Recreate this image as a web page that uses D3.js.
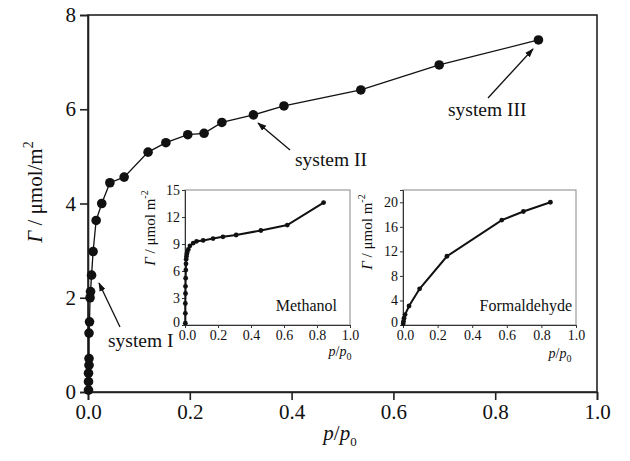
<!DOCTYPE html>
<html><head><meta charset="utf-8">
<script src="https://cdn.jsdelivr.net/npm/d3@7"></script>
<style>
body{margin:0;background:#fff;}
text{font-family:"Liberation Serif","Times New Roman",serif;fill:#111;}
</style></head>
<body><svg id="c" width="630" height="461"></svg>
<script>
// ---- data ----
const mainP = [0.001,0.001,0.001,0.002,0.002,0.002,0.003,0.004,0.005,0.007,0.01,0.016,0.027,0.043,0.071,0.118,0.153,0.196,0.228,0.263,0.325,0.385,0.536,0.690,0.885];
const mainG = [0.04,0.22,0.4,0.57,0.71,1.25,1.49,2.0,2.13,2.48,2.98,3.64,4.0,4.44,4.56,5.09,5.29,5.46,5.49,5.72,5.88,6.07,6.41,6.94,7.47];
const methP = [0.002,0.002,0.002,0.003,0.003,0.004,0.005,0.006,0.007,0.009,0.011,0.014,0.02,0.03,0.05,0.07,0.11,0.17,0.23,0.31,0.46,0.62,0.84];
const methG = [0.2,1.3,2.4,3.5,4.3,5.2,6.1,6.8,7.3,7.6,7.9,8.1,8.4,8.8,9.1,9.3,9.4,9.6,9.8,10.0,10.5,11.1,13.6];
const formP = [0.001,0.003,0.006,0.012,0.035,0.096,0.254,0.571,0.696,0.852];
const formG = [0.2,0.6,1.1,1.7,3.1,5.9,11.2,17.1,18.5,20.0];
const mainXTicks = [0,0.2,0.4,0.6,0.8,1.0];
const mainYTicks = [0,2,4,6,8];
const insetXTicks = [0,0.2,0.4,0.6,0.8,1.0];
const methYTicks = [0,3,6,9,12,15];
const formYTicks = [0,4,8,12,16,20];
const annotations = [
  {label:"system I", tx:108, ty:347, x1:120, y1:327, x2:99, y2:283},
  {label:"system II", tx:295, ty:166, x1:290, y1:150, x2:258, y2:123},
  {label:"system III", tx:448, ty:116, x1:488, y1:98, x2:533, y2:49}
];

const svg = d3.select("#c");
svg.append("defs").append("marker").attr("id","ah").attr("viewBox","0 0 10 10")
  .attr("refX",9).attr("refY",5).attr("markerWidth",7).attr("markerHeight",7)
  .attr("orient","auto").append("path").attr("d","M0,1.5L10,5L0,8.5Z").attr("fill","#111");

function panel(o){
  const x = d3.scaleLinear().domain([0,1]).range([o.x0,o.x1]);
  const y = d3.scaleLinear().domain(o.yDom).range([o.y0,o.y1]);
  const g = svg.append("g");
  g.append("rect").attr("x",o.x0).attr("y",o.y1).attr("width",o.x1-o.x0).attr("height",o.y0-o.y1)
    .attr("fill","none").attr("stroke",o.frame).attr("stroke-width",o.fw);
  const xa = g.append("g").attr("transform",`translate(0,${o.y0})`)
    .call(d3.axisBottom(x).tickValues(o.xt).tickFormat(d3.format(".1f")).tickSize(o.ts).tickPadding(o.tp));
  const ya = g.append("g").attr("transform",`translate(${o.x0},0)`)
    .call(d3.axisLeft(y).tickValues(o.yt).tickFormat(d3.format("d")).tickSize(o.ts).tickPadding(o.tp));
  [xa,ya].forEach(a=>{
    a.select(".domain").attr("stroke",o.axisCol).attr("stroke-width",o.aw);
    a.selectAll(".tick line").attr("stroke",o.axisCol).attr("stroke-width",o.aw);
    a.selectAll(".tick text").attr("font-family","Liberation Serif").attr("font-size",o.fs).attr("fill","#111");
  });
  if(o.inset){
    // lift the zero label on the y axis a little, as in the reference
    ya.selectAll(".tick").filter(d=>d===0).select("text").attr("dy","0.1em");
    xa.selectAll(".tick").filter(d=>d===0).select("text").attr("dx","0.15em");
  }
  const pts = o.p.map((p,i)=>[p,o.g[i]]);
  g.append("path").datum(pts).attr("fill","none").attr("stroke","#111").attr("stroke-width",o.lw)
    .attr("d",d3.line().x(d=>x(d[0])).y(d=>y(d[1])));
  g.selectAll("circle.pt").data(pts).join("circle").attr("class","pt")
    .attr("cx",d=>x(d[0])).attr("cy",d=>y(d[1])).attr("r",o.r).attr("fill","#111");
  return {x,y,g};
}

// main
panel({x0:88,x1:597,y0:392,y1:15,yDom:[0,8],xt:mainXTicks,yt:mainYTicks,frame:"#222",fw:1.6,
  axisCol:"#222",aw:1.6,ts:8,tp:4,fs:21,p:mainP,g:mainG,lw:1.3,r:4.8});

const yl = svg.append("text").attr("transform","translate(42,192) rotate(-90)").attr("text-anchor","middle").attr("font-size",21);
yl.append("tspan").attr("font-style","italic").text("Γ");
yl.append("tspan").text(" / μmol/m");
yl.append("tspan").attr("font-size",14).attr("dy",-9).text("2");
const xl = svg.append("text").attr("x",340).attr("y",440).attr("text-anchor","middle").attr("font-size",21);
xl.append("tspan").attr("font-style","italic").text("p");
xl.append("tspan").text("/");
xl.append("tspan").attr("font-style","italic").text("p");
xl.append("tspan").attr("font-size",13).attr("dy",6).text("0");

annotations.forEach(a=>{
  svg.append("line").attr("x1",a.x1).attr("y1",a.y1).attr("x2",a.x2).attr("y2",a.y2)
    .attr("stroke","#111").attr("stroke-width",1.3).attr("marker-end","url(#ah)");
  svg.append("text").attr("x",a.tx).attr("y",a.ty).attr("font-size",19.5).text(a.label);
});

function insetLabels(cx, cy, px, py, name, nx, ny){
  const t = svg.append("text").attr("transform",`translate(${cx},${cy}) rotate(-90)`).attr("text-anchor","middle").attr("font-size",15);
  t.append("tspan").attr("font-style","italic").text("Γ");
  t.append("tspan").text(" / μmol m");
  t.append("tspan").attr("font-size",10).attr("dy",-7).text("-2");
  const x = svg.append("text").attr("x",px).attr("y",py).attr("text-anchor","middle").attr("font-size",14);
  x.append("tspan").attr("font-style","italic").text("p");
  x.append("tspan").text("/");
  x.append("tspan").attr("font-style","italic").text("p");
  x.append("tspan").attr("font-size",10).attr("dy",4).text("0");
  svg.append("text").attr("x",nx).attr("y",ny).attr("text-anchor","end").attr("font-size",16).text(name);
}
panel({x0:185,x1:350,y0:325,y1:190,yDom:[0,15],xt:insetXTicks,yt:methYTicks,frame:"#888",fw:1,inset:true,
  axisCol:"#333",aw:1,ts:3,tp:2,fs:14,p:methP,g:methG,lw:2,r:2.4});
insetLabels(155,228,340,356,"Methanol",337,311);
panel({x0:403,x1:576,y0:325,y1:190,yDom:[0,22],xt:insetXTicks,yt:formYTicks,frame:"#888",fw:1,inset:true,
  axisCol:"#333",aw:1,ts:3,tp:2,fs:14,p:formP,g:formG,lw:2,r:2.4});
insetLabels(372,232,560,358,"Formaldehyde",572,311);
</script></body></html>
